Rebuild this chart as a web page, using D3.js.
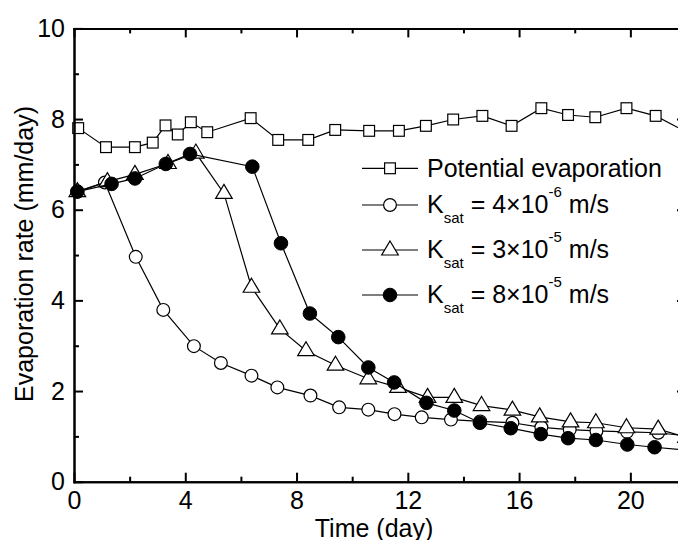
<!DOCTYPE html>
<html lang="en">
<head>
  <meta charset="UTF-8">
  <title>Evaporation rate</title>
  <script src="https://d3js.org/d3.v7.min.js"></script>
  <style>
    body { margin: 0; background: #fff; }
    text { font-family: "Liberation Sans", Arial, sans-serif; fill: #000; }
    .axis path, .axis line { stroke: #000; stroke-width: 2; }
    .axis text { font-size: 25px; }
  </style>
</head>
<body>
  <svg width="678" height="540"></svg>

  <script>
    // potential evaporation (open squares)
    const potDays = [0.15, 1.15, 2.19, 2.83, 3.29, 3.73, 4.20, 4.79, 6.35, 7.34, 8.42, 9.39, 10.61, 11.68, 12.65, 13.63, 14.68, 15.73, 16.80, 17.76, 18.74, 19.86, 20.91, 22.0];
    const potVals = [7.80, 7.38, 7.38, 7.48, 7.86, 7.66, 7.93, 7.71, 8.02, 7.54, 7.54, 7.76, 7.74, 7.74, 7.85, 7.99, 8.07, 7.85, 8.24, 8.09, 8.04, 8.24, 8.07, 7.72];

    // Ksat = 4e-6 (open circles)
    const k1Days = [0.12, 1.11, 2.22, 3.21, 4.31, 5.28, 6.38, 7.31, 8.50, 9.53, 10.58, 11.52, 12.50, 13.55, 14.60, 15.76, 16.80, 17.82, 18.78, 19.88, 21.0, 22.0];
    const k1Vals = [6.40, 6.60, 4.96, 3.79, 2.99, 2.62, 2.34, 2.08, 1.90, 1.64, 1.59, 1.49, 1.42, 1.37, 1.33, 1.30, 1.20, 1.15, 1.12, 1.10, 1.08, 1.01];

    // Ksat = 3e-5 (open triangles)
    const k2Days = [0.12, 1.20, 2.19, 3.38, 4.38, 5.39, 6.38, 7.40, 8.34, 9.40, 10.58, 11.65, 12.71, 13.67, 14.65, 15.76, 16.74, 17.85, 18.76, 19.86, 21.0, 22.0];
    const k2Vals = [6.40, 6.62, 6.78, 7.02, 7.25, 6.36, 4.29, 3.37, 2.89, 2.57, 2.27, 2.08, 1.86, 1.86, 1.68, 1.58, 1.43, 1.32, 1.30, 1.19, 1.16, 0.98];

    // Ksat = 8e-5 (filled circles)
    const k3Days = [0.12, 1.35, 2.19, 3.30, 4.17, 6.41, 7.44, 8.48, 9.50, 10.58, 11.51, 12.67, 13.67, 14.59, 15.70, 16.78, 17.76, 18.76, 19.89, 20.87, 22.0];
    const k3Vals = [6.40, 6.57, 6.69, 7.01, 7.23, 6.95, 5.26, 3.71, 3.19, 2.52, 2.19, 1.74, 1.57, 1.30, 1.18, 1.05, 0.96, 0.92, 0.82, 0.76, 0.70];

    const xMajor = [0, 4, 8, 12, 16, 20];
    const xMinor = [2, 6, 10, 14, 18, 22];
    const yMajor = [0, 2, 4, 6, 8, 10];
    const yMinor = [1, 3, 5, 7, 9];

    const svg = d3.select("svg");
    const plotL = 74, plotR = 686, plotT = 28.4, plotB = 481.7;

    const x = d3.scaleLinear().domain([0, 22]).range([plotL, plotR]);
    const y = d3.scaleLinear().domain([0, 10]).range([plotB, plotT]);

    // marker shapes
    const shapes = {
      square: g => g.append("rect").attr("x", -5.4).attr("y", -5.4).attr("width", 10.8).attr("height", 10.8)
                     .attr("fill", "#fff").attr("stroke", "#000").attr("stroke-width", 1.2),
      circle: g => g.append("circle").attr("r", 6.4)
                     .attr("fill", "#fff").attr("stroke", "#000").attr("stroke-width", 1.2),
      triangle: g => g.append("path").attr("d", "M0,-9 L8.3,5 L-8.3,5 Z")
                     .attr("fill", "#fff").attr("stroke", "#000").attr("stroke-width", 1.2),
      dot: g => g.append("circle").attr("r", 6.8)
                     .attr("fill", "#000").attr("stroke", "#000").attr("stroke-width", 1)
    };

    const series = [
      {days: potDays, vals: potVals, shape: "square"},
      {days: k1Days, vals: k1Vals, shape: "circle"},
      {days: k2Days, vals: k2Vals, shape: "triangle"},
      {days: k3Days, vals: k3Vals, shape: "dot"}
    ];

    const line = d3.line().x(d => x(d[0])).y(d => y(d[1]));

    series.forEach(s => {
      const pts = s.days.map((d, i) => [d, s.vals[i]]);
      svg.append("path")
        .datum(pts)
        .attr("d", line)
        .attr("fill", "none")
        .attr("stroke", "#000")
        .attr("stroke-width", 1.2);
      svg.selectAll(null)
        .data(pts)
        .enter().append("g")
        .attr("transform", d => `translate(${x(d[0])},${y(d[1])})`)
        .each(function() { shapes[s.shape](d3.select(this)); });
    });

    // axes, ticks pointing inward
    svg.append("g").attr("class", "axis")
      .attr("transform", `translate(0,${plotB})`)
      .call(d3.axisBottom(x).tickValues(xMajor).tickSizeInner(-9).tickSizeOuter(0).tickPadding(10));
    svg.append("g").attr("class", "axis")
      .attr("transform", `translate(0,${plotB})`)
      .call(d3.axisBottom(x).tickValues(xMinor).tickSizeInner(-5).tickSizeOuter(0).tickFormat(""));
    svg.append("g").attr("class", "axis")
      .attr("transform", `translate(0,${plotT})`)
      .call(d3.axisTop(x).tickValues(xMajor).tickSizeInner(-9).tickSizeOuter(0).tickFormat(""));
    svg.append("g").attr("class", "axis")
      .attr("transform", `translate(0,${plotT})`)
      .call(d3.axisTop(x).tickValues(xMinor).tickSizeInner(-5).tickSizeOuter(0).tickFormat(""));

    svg.append("g").attr("class", "axis")
      .attr("transform", `translate(${plotL},0)`)
      .call(d3.axisLeft(y).tickValues(yMajor).tickSizeInner(-9).tickSizeOuter(0).tickPadding(9));
    svg.append("g").attr("class", "axis")
      .attr("transform", `translate(${plotL},0)`)
      .call(d3.axisLeft(y).tickValues(yMinor).tickSizeInner(-5).tickSizeOuter(0).tickFormat(""));
    svg.append("g").attr("class", "axis")
      .attr("transform", `translate(${plotR},0)`)
      .call(d3.axisRight(y).tickValues(yMajor).tickSizeInner(-9).tickSizeOuter(0).tickFormat(""));
    svg.append("g").attr("class", "axis")
      .attr("transform", `translate(${plotR},0)`)
      .call(d3.axisRight(y).tickValues(yMinor).tickSizeInner(-5).tickSizeOuter(0).tickFormat(""));

    svg.selectAll(".axis .domain").attr("stroke-linecap", "square");

    // axis titles
    svg.append("text")
      .attr("x", 374).attr("y", 537)
      .attr("text-anchor", "middle")
      .attr("font-size", 25)
      .text("Time (day)");
    svg.append("text")
      .attr("transform", "translate(33,254) rotate(-90)")
      .attr("text-anchor", "middle")
      .attr("font-size", 25)
      .text("Evaporation rate (mm/day)");

    // legend
    const legendRows = [
      {shape: "square", ly: 168.3, base: 176.7, text: "Potential evaporation"},
      {shape: "circle", ly: 205, base: 213.3, mant: "4", exp: "-6"},
      {shape: "triangle", ly: 250, base: 258.3, mant: "3", exp: "-5"},
      {shape: "dot", ly: 295, base: 303.3, mant: "8", exp: "-5"}
    ];

    legendRows.forEach(r => {
      svg.append("line")
        .attr("x1", 362).attr("x2", 418).attr("y1", r.ly).attr("y2", r.ly)
        .attr("stroke", "#000").attr("stroke-width", 1.2);
      shapes[r.shape](svg.append("g").attr("transform", `translate(390,${r.ly})`));
      const t = svg.append("text").attr("x", 427).attr("y", r.base).attr("font-size", 25);
      if (r.text) {
        t.text(r.text);
      } else {
        t.append("tspan").text("K");
        t.append("tspan").attr("font-size", 15).attr("dy", 10).text("sat");
        t.append("tspan").attr("dy", -10).text(" = " + r.mant + "\u00d710");
        t.append("tspan").attr("font-size", 15).attr("dy", -16).text(r.exp);
        t.append("tspan").attr("dy", 16).text(" m/s");
      }
    });
  </script>
</body>
</html>
